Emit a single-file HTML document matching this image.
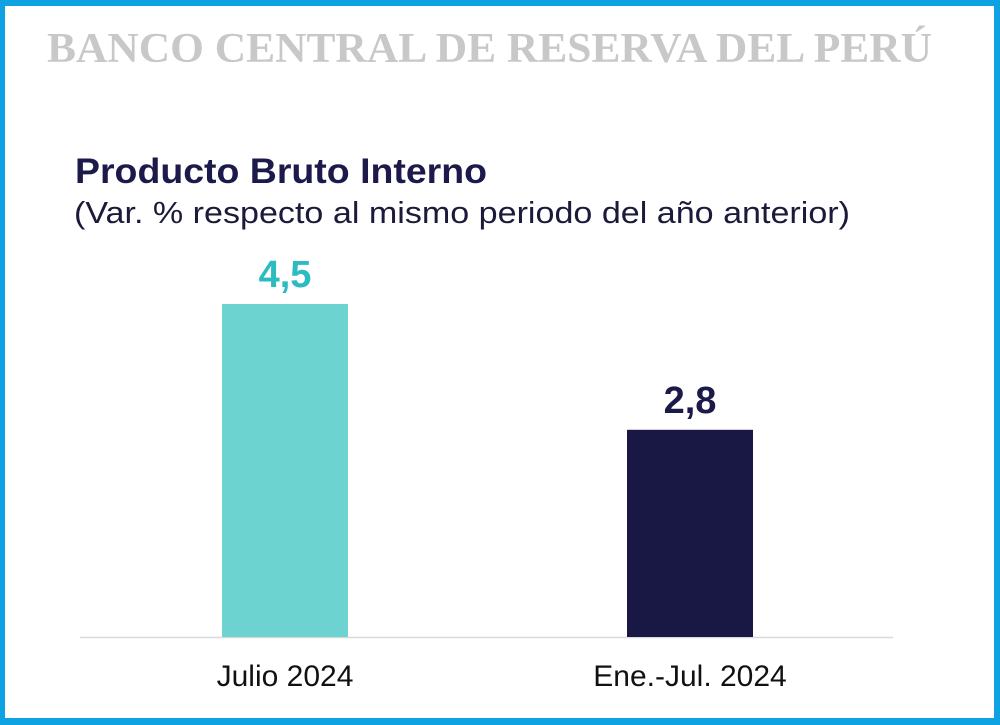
<!DOCTYPE html>
<html><head><meta charset="utf-8"><style>
body{margin:0;width:1000px;height:725px;overflow:hidden;background:#fff}
#frame{position:absolute;left:0;top:0;width:1000px;height:725px;box-sizing:border-box;border:6px solid #0ea2e2;border-left-width:5px;border-bottom-width:7px}
</style></head><body>
<div id="frame"></div>
<svg width="1000" height="725" style="position:absolute;left:0;top:0">
<text x="47" y="62" font-family="Liberation Serif,serif" font-weight="bold" font-size="42" fill="#c8c8c8" textLength="885" lengthAdjust="spacingAndGlyphs">BANCO CENTRAL DE RESERVA DEL PERÚ</text>
<text x="75" y="183" font-family="Liberation Sans,sans-serif" font-weight="bold" font-size="35" fill="#1b1a4a" textLength="412" lengthAdjust="spacingAndGlyphs">Producto Bruto Interno</text>
<text x="74" y="223" font-family="Liberation Sans,sans-serif" font-size="31" fill="#1b1a3a" textLength="776" lengthAdjust="spacingAndGlyphs">(Var. % respecto al mismo periodo del año anterior)</text>
<line x1="80" y1="637.5" x2="893" y2="637.5" stroke="#d9d9d9" stroke-width="1.5"/>
<g id="bars"></g>
</svg>
<script>
const categories=["Julio 2024","Ene.-Jul. 2024"];
const values=[4.5,2.8];
const labels=["4,5","2,8"];
const colors=["#6cd3d1","#191845"];
const labelColors=["#2bbbc0","#1b1a4a"];
const base=637, scale=74, centers=[285,690], bw=126;
const y=v=>base-v*scale;
const g=document.getElementById('bars');
const ns='http://www.w3.org/2000/svg';
values.forEach((v,i)=>{
 const r=document.createElementNS(ns,'rect');
 r.setAttribute('x',centers[i]-bw/2);r.setAttribute('y',y(v));r.setAttribute('width',bw);r.setAttribute('height',base-y(v));r.setAttribute('fill',colors[i]);
 
 
 g.appendChild(r);
 const t=document.createElementNS(ns,'text');
 t.setAttribute('x',centers[i]);t.setAttribute('y',y(v)-17);t.setAttribute('text-anchor','middle');
 t.setAttribute('font-family','Liberation Sans,sans-serif');t.setAttribute('font-weight','bold');t.setAttribute('font-size','38');t.setAttribute('fill',labelColors[i]);
 t.textContent=labels[i];
 
 
 g.appendChild(t);
 const c=document.createElementNS(ns,'text');
 c.setAttribute('x',centers[i]);c.setAttribute('y',686);c.setAttribute('text-anchor','middle');
 c.setAttribute('font-family','Liberation Sans,sans-serif');c.setAttribute('font-size','30');c.setAttribute('fill','#111');
 c.textContent=categories[i];
 
 
 g.appendChild(c);
});
</script>
</body></html>
